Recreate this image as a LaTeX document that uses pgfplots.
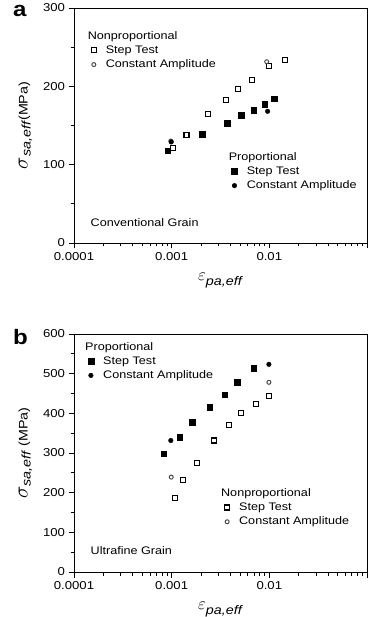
\documentclass[border=0pt]{standalone}
\usepackage{fontspec}
\setmainfont{Liberation Sans}[FakeStretch=1.15]
\usepackage{pgfplots}
\pgfplotsset{compat=1.18}
\newcommand{\sig}{{\fontsize{21}{21}\selectfont$\sigma$}\raisebox{-3bp}{\textit{sa,eff}}}
\newcommand{\eps}{{\fontsize{19}{19}\selectfont$\varepsilon$}\raisebox{-5bp}{\textit{pa,eff}}}
\newcommand{\lgd}[1]{\hspace{6bp}#1}
\begin{document}
\begin{tikzpicture}
% ---------------- panel a ----------------
\begin{axis}[name=pa, scale only axis, width=293bp, height=235bp, at={(74bp,374bp)}, anchor=south west,
  xmode=log, xmin=1e-5, xmax=1e-2,
  xticklabels={0.00001,0.0001,0.001,0.01},
  ymin=0, ymax=300, ytick={0,100,200,300}, yticklabels={0,100,200,300},
  minor y tick num=1,
  tick align=outside, tick pos=left,
  major tick length=5.5bp, minor tick length=3.5bp,
  tick label style={font=\fontsize{11.5}{12}\selectfont},
  label style={font=\fontsize{12.5}{14}\selectfont},
  axis line style={line width=0.9pt}, tick style={line width=0.8pt,black},
  minor tick style={line width=0.8pt,black},
  ylabel={\sig(MPa)}, ylabel style={yshift=4bp},
  xlabel={\eps}, xlabel style={yshift=-6bp},
  legend cell align=left,
  legend style={draw=none, fill=none, font=\fontsize{11}{12}\selectfont, row sep=1pt, inner sep=0pt,
    nodes={inner xsep=3.5bp}, at={(0.038,0.91)}, anchor=north west}]
\addlegendimage{empty legend}\addlegendentry{\hspace{-12bp}Nonproportional}
\addplot[only marks, mark=square, mark size=2.5bp, mark options={line width=1.1pt, draw=black}] coordinates {(1.04e-4,121.7) (1.42e-4,137.9) (2.37e-4,165.1) (3.6e-4,183) (4.8e-4,196.2) (6.7e-4,208) (1.0e-3,225.6) (1.44e-3,233.6)};
\addlegendentry{\lgd{Step Test}}
\addplot[only marks, mark=o, mark size=2bp, mark options={line width=1pt, draw=black!70}] coordinates {(9.8e-5,130.2) (9.4e-4,231.4)};
\addlegendentry{\lgd{Constant Amplitude}}
\node[anchor=west, font=\fontsize{11}{12}\selectfont] at (rel axis cs:0.045,0.085) {Conventional Grain};
\end{axis}
\node[anchor=base west, inner sep=0pt, font=\fontsize{21}{22}\selectfont\bfseries] at ([xshift=-61bp,yshift=-9bp]pa.north west) {a};
\begin{axis}[scale only axis, width=293bp, height=235bp, at={(74bp,374bp)}, anchor=south west,
  xmode=log, xmin=1e-5, xmax=1e-2, ymin=0, ymax=300, hide axis,
  legend cell align=left,
  legend style={draw=none, fill=none, font=\fontsize{11}{12}\selectfont, row sep=1pt, inner sep=0pt,
    nodes={inner xsep=3.5bp}, at={(0.518,0.395)}, anchor=north west}]
\addlegendimage{empty legend}\addlegendentry{\hspace{-12bp}Proportional}
\addplot[only marks, mark=square*, mark size=2.8bp, mark options={draw=black, fill=black}] coordinates {(9.1e-5,117.8) (2.06e-4,138.8) (3.68e-4,153.2) (5.16e-4,163) (6.9e-4,169.4) (9.0e-4,177.4) (1.12e-3,184.2)};
\addlegendentry{\lgd{Step Test}}
\addplot[only marks, mark=*, mark size=2.3bp, mark options={draw=black, fill=black}] coordinates {(9.9e-5,129) (9.6e-4,168.1)};
\addlegendentry{\lgd{Constant Amplitude}}
\end{axis}
% ---------------- panel b ----------------
\begin{axis}[name=pb, scale only axis, width=293bp, height=238bp, at={(74bp,45bp)}, anchor=south west,
  xmode=log, xmin=1e-5, xmax=1e-2,
  xticklabels={0.00001,0.0001,0.001,0.01},
  ymin=0, ymax=600, ytick={0,100,200,300,400,500,600}, yticklabels={0,100,200,300,400,500,600},
  minor y tick num=1,
  tick align=outside, tick pos=left,
  major tick length=5.5bp, minor tick length=3.5bp,
  tick label style={font=\fontsize{11.5}{12}\selectfont},
  label style={font=\fontsize{12.5}{14}\selectfont},
  axis line style={line width=0.9pt}, tick style={line width=0.8pt,black},
  minor tick style={line width=0.8pt,black},
  ylabel={\sig\ (MPa)}, ylabel style={yshift=4bp},
  xlabel={\eps}, xlabel style={yshift=-6bp},
  legend cell align=left,
  legend style={draw=none, fill=none, font=\fontsize{11}{12}\selectfont, row sep=1pt, inner sep=0pt,
    nodes={inner xsep=3.5bp}, at={(0.028,0.975)}, anchor=north west}]
\addlegendimage{empty legend}\addlegendentry{\hspace{-12bp}Proportional}
\addplot[only marks, mark=square*, mark size=2.8bp, mark options={draw=black, fill=black}] coordinates {(8.3e-5,298) (1.21e-4,339.8) (1.63e-4,377.5) (2.45e-4,415.3) (3.49e-4,447.2) (4.66e-4,479.2) (6.9e-4,513.4)};
\addlegendentry{\lgd{Step Test}}
\addplot[only marks, mark=*, mark size=2.3bp, mark options={draw=black, fill=black}] coordinates {(9.8e-5,331.5) (9.9e-4,523.5)};
\addlegendentry{\lgd{Constant Amplitude}}
\node[anchor=west, font=\fontsize{11}{12}\selectfont] at (rel axis cs:0.045,0.092) {Ultrafine Grain};
\end{axis}
\node[anchor=base west, inner sep=0pt, font=\fontsize{21}{22}\selectfont\bfseries] at ([xshift=-61bp,yshift=-10bp]pb.north west) {b};
\begin{axis}[scale only axis, width=293bp, height=238bp, at={(74bp,45bp)}, anchor=south west,
  xmode=log, xmin=1e-5, xmax=1e-2, ymin=0, ymax=600, hide axis,
  legend cell align=left,
  legend style={draw=none, fill=none, font=\fontsize{11}{12}\selectfont, row sep=1pt, inner sep=0pt,
    nodes={inner xsep=3.5bp}, at={(0.493,0.36)}, anchor=north west}]
\addlegendimage{empty legend}\addlegendentry{\hspace{-12bp}Nonproportional}
\addplot[only marks, mark=square, mark size=2.5bp, mark options={line width=1.1pt, draw=black}] coordinates {(1.09e-4,185.5) (1.31e-4,232.5) (1.80e-4,274.3) (2.69e-4,331.5) (3.86e-4,371.7) (5.1e-4,401.2) (7.3e-4,424.6) (9.9e-4,444)};
\addlegendentry{\lgd{Step Test}}
\addplot[only marks, mark=o, mark size=2bp, mark options={line width=1pt, draw=black!70}] coordinates {(9.9e-5,239.1) (9.9e-4,478.2)};
\addlegendentry{\lgd{Constant Amplitude}}
\end{axis}
\pgfresetboundingbox
\path[use as bounding box] (0,0) rectangle (380bp,617bp);
\end{tikzpicture}
\end{document}
